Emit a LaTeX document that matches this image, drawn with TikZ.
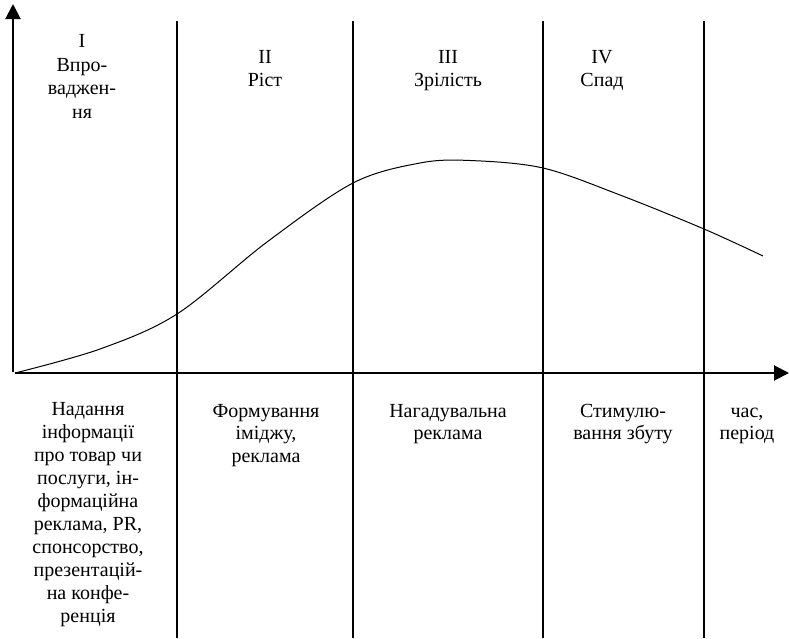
\documentclass[tikz,border=0pt]{standalone}
\usepackage{fontspec}
\setmainfont{Liberation Serif}
\usetikzlibrary{arrows.meta}

\begin{document}
\begin{tikzpicture}[x=1pt, y=-1pt,
    ax/.style={line width=2pt, -{Triangle[length=15pt, width=15pt]}},
    sep/.style={line width=2pt},
    phase/.style={align=center, inner sep=0pt, anchor=base, font=\fontsize{20}{23.5}\selectfont},
    tool/.style={align=center, inner sep=0pt, anchor=base, font=\fontsize{20}{22.9}\selectfont}]
  \useasboundingbox (0,0) rectangle (789,638);
  % axes
  \coordinate (yfoot) at (13,372);
  \coordinate (ytip) at (13,4);
  \coordinate (xfoot) at (15,373);
  \coordinate (xtip) at (789,373);
  \draw[ax] (yfoot) -- (ytip);
  \draw[ax] (xfoot) -- (xtip);
  % phase borders
  \foreach \x [count=\i] in {177,353,543,704} {
    \coordinate (top\i) at (\x,21);
    \coordinate (bot\i) at (\x,638);
    \draw[sep] (top\i) -- (bot\i);
  }
  % life cycle curve
  \draw[line width=1pt] plot[smooth, tension=0.55] coordinates {(15,373) (100,349) (177,314) (267,242) (353,183) (420,163) (470,160.5) (543,168) (620,195) (704,229) (763,256)};
  % phases (placed at the baseline of their last line)
  \node[phase] (p1) at (82,118) {I\\Впро-\\ваджен-\\ня};
  \node[phase] (p2) at (265,86.5) {II\\Ріст};
  \node[phase] (p3) at (448,86.5) {III\\Зрілість};
  \node[phase] (p4) at (602,86.5) {IV\\Спад};
  % communication tools
  \node[tool] (t1) at (88,622) {Надання\\інформації\\про товар чи\\послуги, ін-\\формаційна\\реклама, PR,\\спонсорство,\\презентацій-\\на конфе-\\ренція};
  \node[tool] (t2) at (266,462.8) {Формування\\іміджу,\\реклама};
  \node[tool] (t3) at (448,439.9) {Нагадувальна\\реклама};
  \node[tool] (t4) at (623,439.9) {Стимулю-\\вання збуту};
  \node[tool] (t5) at (747,439.9) {час,\\період};
\end{tikzpicture}
\end{document}
